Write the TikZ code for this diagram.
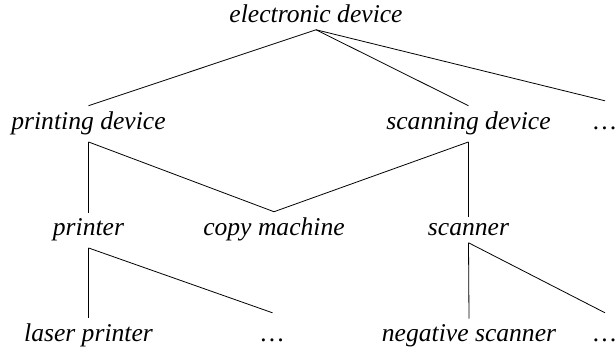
\documentclass[tikz,border=0pt]{standalone}
\usepackage{fontspec}
\setmainfont{Liberation Serif}[ItalicFont={Liberation Serif Italic}]
\begin{document}
\begin{tikzpicture}[x=1pt,y=-1pt,
  every node/.style={font=\fontsize{25.6}{30}\selectfont\itshape, inner sep=6.3pt, anchor=base},
  dotsnode/.style={text height=22.7pt},
  edge/.style={line width=0.8pt}]
\useasboundingbox (0,0) rectangle (616,352);
\node (ed) at (316,23) {electronic device};
\node (pd) at (88.5,130) {printing device};
\node (sd) at (468.5,130) {scanning device};
\node[dotsnode] (d1) at (605,130) {\ldots};
\node (pr) at (88.5,236) {printer};
\node (cm) at (274,236) {copy machine};
\node (sc) at (468.5,236) {scanner};
\node (lp) at (88.5,342) {laser printer};
\node[dotsnode] (d2) at (272.5,342) {\ldots};
\node (ns) at (469,342) {negative scanner};
\node[dotsnode] (d3) at (605,342) {\ldots};
\draw[edge] (ed.south) -- (pd.north);
\draw[edge] (ed.south) -- (sd.north);
\draw[edge] (ed.south) -- (d1.north);
\draw[edge] (pd.south) -- (pr.north);
\draw[edge] (pd.south) -- (cm.north);
\draw[edge] (sd.south) -- (cm.north);
\draw[edge] (sd.south) -- (sc.north);
\draw[edge] (pr.south) -- (lp.north);
\draw[edge] (pr.south) -- (d2.north);
\draw[edge] (sc.south) -- (ns.north);
\draw[edge] (sc.south) -- (d3.north);
\end{tikzpicture}
\end{document}
